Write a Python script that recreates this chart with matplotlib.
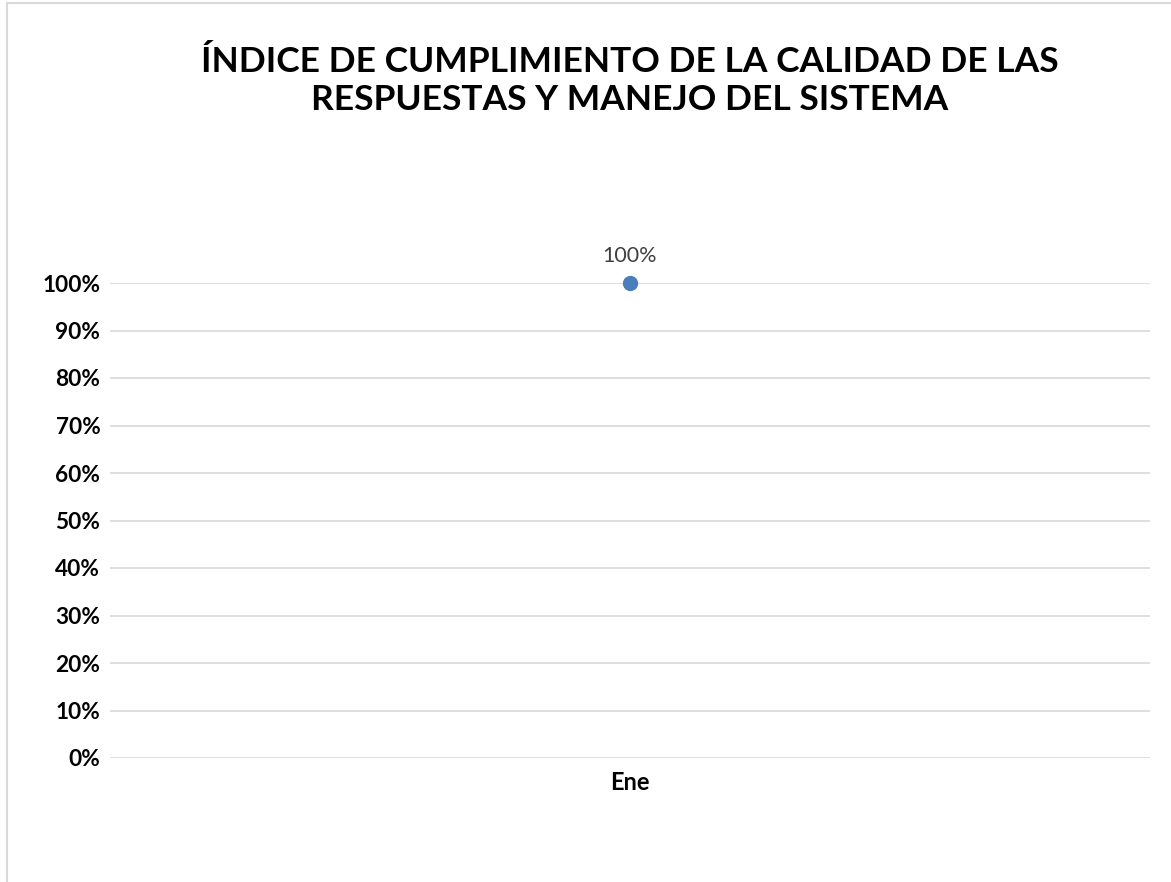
import matplotlib
matplotlib.use("Agg")
import matplotlib.pyplot as plt
from matplotlib.patches import Rectangle

months = ["Ene"]
values = [1.0]
yticks = [0, 0.1, 0.2, 0.3, 0.4, 0.5, 0.6, 0.7, 0.8, 0.9, 1.0]
ytick_labels = ["0%", "10%", "20%", "30%", "40%", "50%", "60%", "70%", "80%", "90%", "100%"]
title = "ÍNDICE DE CUMPLIMIENTO DE LA CALIDAD DE LAS\nRESPUESTAS Y MANEJO DEL SISTEMA"

plt.rcParams['font.family'] = ['Lato', 'DejaVu Sans']

W, H = 1171, 882
fig = plt.figure(figsize=(W / 100, H / 100), dpi=100)

# chart border (only left and top edges visible in the crop)
fig.add_artist(Rectangle((7 / W, -0.5), 2, 1.5 - 3 / H, transform=fig.transFigure,
                         fill=False, edgecolor='#D9D9D9', lw=1.5))

ax = fig.add_axes([110 / W, (H - 758) / H, (1150 - 110) / W, (758 - 283) / H])
x = list(range(len(months)))
ax.plot(x, values, 'o', color='#4A7EBB', markersize=10, clip_on=False, zorder=3)
for xi, v in zip(x, values):
    ax.annotate(f"{v:.0%}", (xi, v), xytext=(0, 19.5), textcoords='offset points',
                ha='center', va='center', fontsize=15.5, color='#404040')

ax.set_xlim(-0.5, len(months) - 0.5)
ax.set_ylim(0, 1)
ax.set_yticks(yticks)
ax.set_yticklabels(ytick_labels, fontsize=16.3, fontweight='bold')
ax.set_xticks(x)
ax.set_xticklabels(months, fontsize=17, fontweight='bold')
ax.tick_params(length=0, pad=7)
ax.tick_params(axis='x', pad=9)
ax.grid(axis='y', color='#D9D9D9', lw=1.2)
ax.set_axisbelow(True)
for s in ax.spines.values():
    s.set_visible(False)

fig.text(630 / W, 1 - 81 / H, title, ha='center', va='center', fontsize=25.5,
         fontweight='bold', linespacing=1.23)

fig.savefig("out.png", dpi=100)
